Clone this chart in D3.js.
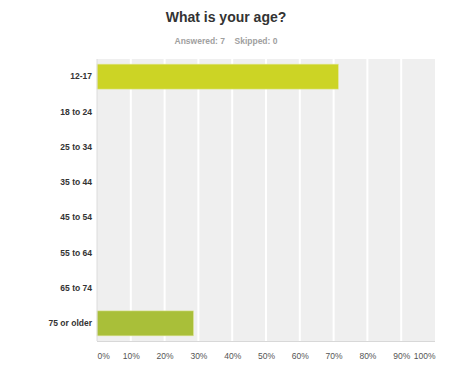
<!DOCTYPE html>
<html>
<head>
<meta charset="utf-8">
<script src="https://cdn.jsdelivr.net/npm/d3@7"></script>
<style>
  body { margin: 0; background: #fff; }
  text { font-family: Arial, "Liberation Sans", sans-serif; }
</style>
</head>
<body>
<div id="chart"></div>
<script>
// Chart data
const categories = ["12-17", "18 to 24", "25 to 34", "35 to 44", "45 to 54", "55 to 64", "65 to 74", "75 or older"];
const values = [0.7143, 0, 0, 0, 0, 0, 0, 0.2857];
const barColors = ["#ccd425", "#ccd425", "#ccd425", "#ccd425", "#ccd425", "#ccd425", "#ccd425", "#a9bf39"];
const tickValues = [0, 0.1, 0.2, 0.3, 0.4, 0.5, 0.6, 0.7, 0.8, 0.9, 1];
const answered = 7, skipped = 0;

const W = 449, H = 369;
const margin = {top: 59, right: 14, bottom: 28, left: 97},
    width = W - margin.left - margin.right,
    height = H - margin.top - margin.bottom;

const svg = d3.select("#chart")
  .append("svg")
    .attr("width", W)
    .attr("height", H);

// Title and subtitle
svg.append("text")
    .attr("x", 226).attr("y", 22)
    .attr("text-anchor", "middle")
    .attr("font-size", "14px").attr("font-weight", "bold")
    .attr("fill", "#333")
    .text("What is your age?");

svg.append("text")
    .attr("x", 226).attr("y", 43.5)
    .attr("text-anchor", "middle")
    .attr("font-size", "8.5px").attr("font-weight", "bold")
    .attr("fill", "#a0a0a0")
    .attr("xml:space", "preserve")
    .text(`Answered: ${answered}    Skipped: ${skipped}`);

const g = svg.append("g")
    .attr("transform", `translate(${margin.left},${margin.top})`);

const x = d3.scaleLinear().domain([0, 1]).range([0, width]);
const y = d3.scaleBand().domain(categories).range([0, height]).paddingInner(0.29).paddingOuter(0.145);

// Plot background
g.append("rect")
    .attr("width", width).attr("height", height)
    .attr("fill", "#efefef");

// Gridlines
g.selectAll(".grid")
  .data(tickValues.slice(1, -1))
  .join("line")
    .attr("x1", d => x(d)).attr("x2", d => x(d))
    .attr("y1", 0).attr("y2", height)
    .attr("stroke", "#fff").attr("stroke-width", 2);

// Bars
g.selectAll(".bar")
  .data(categories.map((c, i) => ({c, v: values[i], col: barColors[i]})))
  .join("rect")
    .attr("x", 0)
    .attr("y", d => y(d.c))
    .attr("width", d => x(d.v))
    .attr("height", y.bandwidth())
    .attr("fill", d => d.col)
    .attr("stroke", "#e4e8a8").attr("stroke-width", d => d.v > 0 ? 0.6 : 0);

// Axis lines
g.append("line")
    .attr("x1", 0).attr("x2", 0).attr("y1", 0).attr("y2", height)
    .attr("stroke", "#dcdcdc").attr("stroke-width", 1);
g.append("line")
    .attr("x1", 0).attr("x2", width).attr("y1", height + 0.5).attr("y2", height + 0.5)
    .attr("stroke", "#d8d8d8").attr("stroke-width", 1);

// Y axis labels
const yAxis = g.append("g")
    .call(d3.axisLeft(y).tickSize(0).tickPadding(5));
yAxis.select(".domain").remove();
yAxis.selectAll("text")
    .attr("font-family", "Arial, 'Liberation Sans', sans-serif")
    .attr("font-size", "8.5px").attr("font-weight", "bold")
    .attr("fill", "#333");

// X axis labels
const xAxis = g.append("g")
    .attr("transform", `translate(0,${height})`)
    .call(d3.axisBottom(x).tickValues(tickValues).tickFormat(d3.format(".0%")).tickSize(0).tickPadding(12));
xAxis.select(".domain").remove();
xAxis.selectAll("text")
    .attr("font-family", "Arial, 'Liberation Sans', sans-serif")
    .attr("font-size", "8.5px")
    .attr("fill", "#555")
    .attr("text-anchor", d => d === 0 ? "start" : d === 1 ? "end" : "middle");
</script>
</body>
</html>
